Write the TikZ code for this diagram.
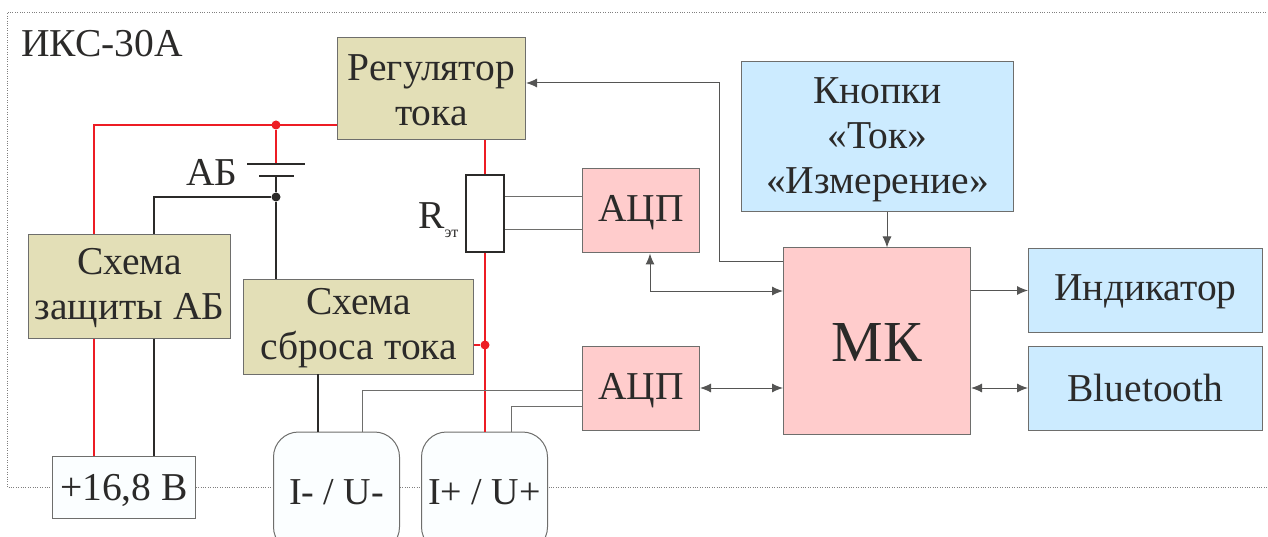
\documentclass[tikz,border=0pt]{standalone}
\usepackage{fontspec}
\setmainfont{Liberation Serif}
\definecolor{khaki}{HTML}{E3DFB7}
\definecolor{pinkbox}{HTML}{FFCCCC}
\definecolor{bluebox}{HTML}{CCEBFF}
\definecolor{whitebox}{HTML}{FBFEFF}
\definecolor{redw}{HTML}{ED1C24}
\definecolor{ink}{HTML}{2B2A29}
\definecolor{edge}{HTML}{6E6E6C}
\usetikzlibrary{arrows.meta}
\newcommand{\lowered}[2]{\raisebox{-#1}[\height][\depth]{\begin{tabular}{@{}c@{}}#2\end{tabular}}}
\tikzset{
    block/.style={draw=edge, line width=1pt, inner sep=0pt, align=center, text=ink, font=\fontsize{39.5}{45}\selectfont},
    redwire/.style={draw=redw, line width=2.2pt},
    blackwire/.style={draw=ink, line width=2.2pt},
    thinwire/.style={draw=edge, line width=1pt},
    sig/.style={draw=ink!80, line width=1pt, -{Latex[length=11pt,width=9pt]}},
    sigboth/.style={draw=ink!80, line width=1pt, {Latex[length=11pt,width=9pt]}-{Latex[length=11pt,width=9pt]}},
    dot/.style={circle, inner sep=0pt, minimum size=9pt},
}
\begin{document}
\begin{tikzpicture}[x=1pt, y=-1pt]
    \useasboundingbox (0,0) rectangle (1268,537);
    \clip (0,0) rectangle (1268,537);
    % frame
    \coordinate (frameTL) at (7,12);
    \coordinate (frameBL) at (7,487);
    \draw[dotted, draw=ink!60] (1268,12) -- (frameTL) -- (frameBL) -- (1268,487);
    \node[text=ink, font=\fontsize{39.5}{42}\selectfont] (title) at (102,44) {ИКС-30А};

    % blocks
    \node[block, fill=khaki, minimum width=188pt, minimum height=102pt] (reg) at (431.5,89) {\lowered{5pt}{Регулятор\\тока}};
    \node[block, fill=khaki, minimum width=202pt, minimum height=103pt] (prot) at (129.5,286.5) {\lowered{1.5pt}{Схема\\защиты АБ}};
    \node[block, fill=khaki, minimum width=230pt, minimum height=95pt] (reset) at (358.5,326.5) {\lowered{1pt}{Схема\\сброса тока}};
    \node[block, fill=pinkbox, minimum width=117pt, minimum height=84pt] (adcA) at (641,211) {\lowered{2pt}{АЦП}};
    \node[block, fill=pinkbox, minimum width=117pt, minimum height=84pt] (adcB) at (641,388) {\lowered{2pt}{АЦП}};
    \node[block, fill=bluebox, minimum width=272pt, minimum height=150pt] (keys) at (877.5,137) {\lowered{3pt}{Кнопки\\«Ток»\\«Измерение»}};
    \node[block, fill=pinkbox, minimum width=187pt, minimum height=186pt, font=\fontsize{58}{60}\selectfont] (mcu) at (877,341) {\lowered{8pt}{МК}};
    \node[block, fill=bluebox, minimum width=234pt, minimum height=83pt] (disp) at (1145.5,290.5) {\lowered{1pt}{Индикатор}};
    \node[block, fill=bluebox, minimum width=234pt, minimum height=84pt] (bt) at (1145.5,388) {Bluetooth};
    \node[block, fill=whitebox, minimum width=143pt, minimum height=62pt] (vin) at (124,487) {\lowered{4pt}{+16,8 В}};
    \node[block, fill=whitebox, rounded corners=25pt, minimum width=126pt, minimum height=120pt, font=\fontsize{38}{46}\selectfont] (neg) at (336.5,492) {I- / U-};
    \node[block, fill=whitebox, rounded corners=25pt, minimum width=126pt, minimum height=120pt, font=\fontsize{38}{46}\selectfont] (pos) at (484.5,492) {I+ / U+};

    % shunt and battery
    \node[draw=ink, fill=white, line width=2.5pt, minimum width=38pt, minimum height=77pt, inner sep=0pt] (rs) at (485,213.5) {};
    \node[text=ink, font=\fontsize{39.5}{42}\selectfont, anchor=east] (rslabel) at (462,220) {R\raisebox{-9pt}{\fontsize{16}{16}\selectfont эт}};
    \coordinate (platelong) at (276,164);
    \coordinate (plateshort) at (276,176);
    \node[text=ink, font=\fontsize{39.5}{42}\selectfont, anchor=east] (ablabel) at (241,172) {АБ};
    \node[dot, fill=redw] (jtop) at (276,125) {};
    \node[dot, fill=ink] (jbat) at (276,197) {};
    \node[dot, fill=redw] (jrs) at (485,345) {};

    % power
    \coordinate (redcorner) at (94,125);
    \coordinate (blackcorner) at (154,197);
    \draw[redwire] (reg.west |- jtop) -- (redcorner) -- (redcorner |- prot.north);
    \draw[redwire] (jtop) -- (platelong);
    \draw[redwire] (redcorner |- prot.south) -- (redcorner |- vin.north);
    \draw[redwire] (rs.north |- reg.south) -- (rs.north);
    \draw[redwire] (rs.south) -- (rs.south |- pos.north);
    \draw[redwire] (reset.east |- jrs) -- (jrs);
    \draw[blackwire] (plateshort) -- (jbat) -- (jbat |- reset.north);
    \draw[blackwire] (jbat) -- (blackcorner) -- (blackcorner |- prot.north);
    \draw[blackwire] (blackcorner |- prot.south) -- (blackcorner |- vin.north);
    \draw[blackwire] (318,374) coordinate (resetout) -- (resetout |- neg.north);
    \draw[draw=ink, line width=2.5pt] (247,164) -- (platelong) -- (305,164);
    \draw[draw=ink, line width=2.5pt] (259,176) -- (plateshort) -- (294,176);

    % measurement
    \coordinate (adcBa) at (582,390);
    \coordinate (adcBb) at (582,406);
    \coordinate (adcAa) at (582,197);
    \coordinate (adcAb) at (582,230);
    \draw[thinwire] (362,432) coordinate (nega) -- (nega |- adcBa) -- (adcBa);
    \draw[thinwire] (511,432) coordinate (posa) -- (posa |- adcBb) -- (adcBb);
    \draw[thinwire] (rs.east |- adcAa) -- (adcAa);
    \draw[thinwire] (rs.east |- adcAb) -- (adcAb);

    % control
    \coordinate (ctlcorner) at (719,83);
    \coordinate (adcturn) at (650,291);
    \draw[sig] (mcu.west |- 0,262) -- (ctlcorner |- 0,262) -- (ctlcorner) -- (reg.east |- ctlcorner);
    \draw[sigboth] (adcturn |- adcA.south) -- (adcturn) -- (mcu.west |- adcturn);
    \draw[sigboth] (adcB.east) -- (mcu.west |- adcB.east);
    \draw[sig] (keys.south -| 887,0) -- (mcu.north -| 887,0);
    \draw[sig] (mcu.east |- disp) -- (disp.west);
    \draw[sigboth] (mcu.east |- bt) -- (bt.west);
\end{tikzpicture}
\end{document}
